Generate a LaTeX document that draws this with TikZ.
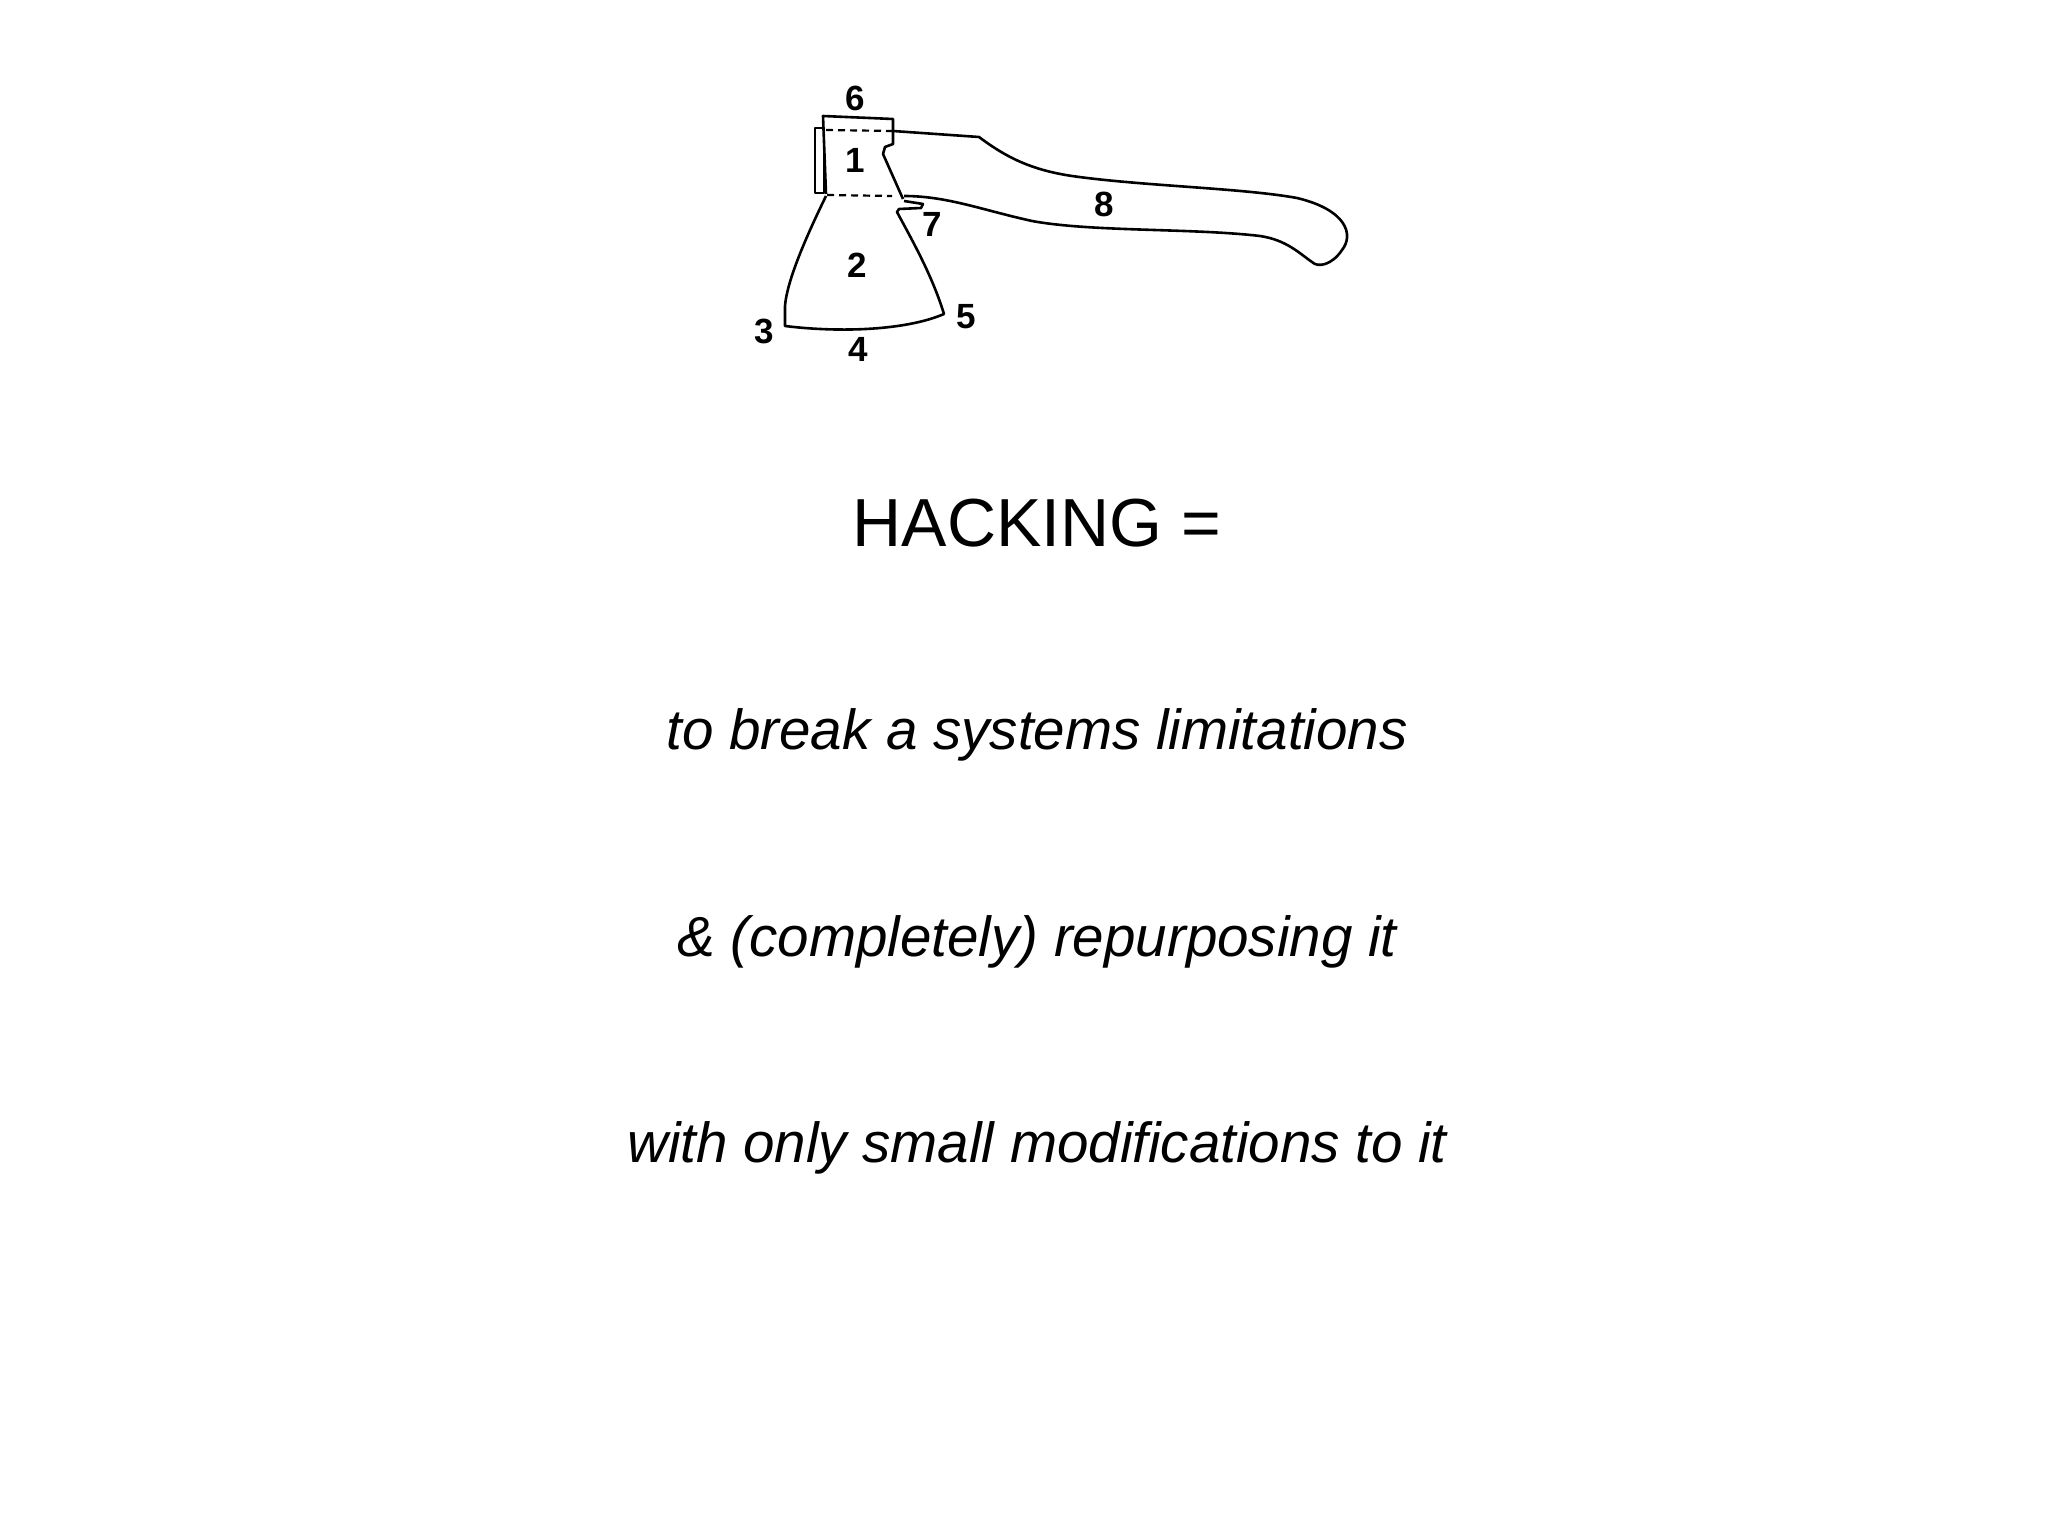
\documentclass[tikz,border=0pt]{standalone}
\usepackage{fontspec}
\setmainfont{Liberation Sans}
\begin{document}
\begin{tikzpicture}[x=1pt,y=-1pt,line width=2.6pt,line join=round,
  num/.style={font=\fontsize{35}{35}\selectfont\bfseries},
  dsh/.style={line width=2.2pt,dash pattern=on 7pt off 5pt},
  txt/.style={font=\fontsize{56.5}{60}\selectfont\itshape}]
\useasboundingbox[fill=white] (0,0) rectangle (2048,1536);
\begin{scope}[xshift=-8pt]
% left small rect
\draw (823,128) rectangle (832,193);
% head (eye)
\draw (834,194) -- (831,116) -- (901,119) -- (901,144) -- (893,147) -- (891,154) -- (911,199);
\draw[dsh] (834,130) -- (900,131);
\draw[dsh] (835,195) -- (900,196);
% blade
\draw (834,196) .. controls (815,235) and (795,280) .. (793,306) -- (793,326)
  .. controls (850,333) and (915,330) .. (952,314)
  .. controls (940,275) and (920,240) .. (905,212) -- (907,209) -- (929,208) -- (931,204) -- (912,201);
% handle
\draw (901,131) -- (987,137) .. controls (1015,158) and (1040,170) .. (1080,176)
  .. controls (1150,186) and (1250,188) .. (1305,198)
  .. controls (1355,210) and (1362,235) .. (1350,250)
  .. controls (1340,265) and (1326,268) .. (1320,262)
  .. controls (1308,254) and (1295,240) .. (1268,236)
  .. controls (1200,228) and (1100,232) .. (1040,221)
  .. controls (990,210) and (955,196) .. (912,196);
% numbers
\node[num] (n6) at (863,98) {6};
\node[num] (n1) at (863,160) {1};
\node[num] (n7) at (940,224) {7};
\node[num] (n8) at (1112,204) {8};
\node[num] (n2) at (865,265) {2};
\node[num] (n3) at (772,331) {3};
\node[num] (n4) at (866,349) {4};
\node[num] (n5) at (974,317) {5};
\end{scope}
% text
\node[font=\fontsize{68}{70}\selectfont] (h) at (1037,523) {HACKING =};
\node[txt] (l1) at (1037,735) {to break a systems limitations};
\node[txt] (l2) at (1037,942) {\& (completely) repurposing it};
\node[txt] (l3) at (1037,1148) {with only small modifications to it};
\end{tikzpicture}
\end{document}
